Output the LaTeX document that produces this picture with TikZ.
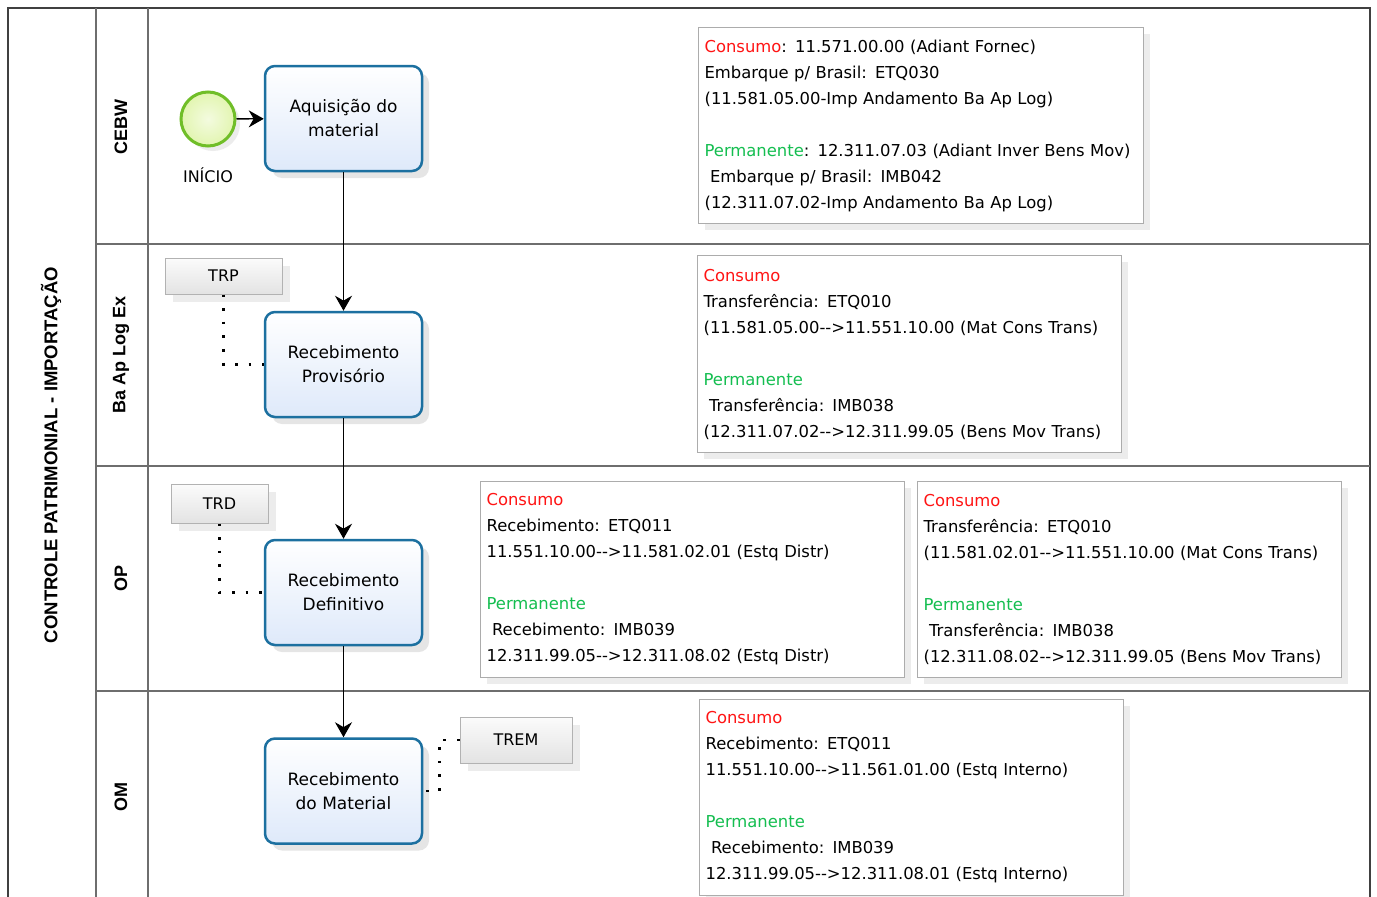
\documentclass[tikz,border=0pt]{standalone}
\usepackage{fontspec}
\setmainfont{DejaVu Sans}
\newfontfamily\lanefont{Liberation Sans}
\usepackage{tikz}
\usetikzlibrary{arrows.meta, positioning, shadows, shapes.geometric}

\definecolor{taskblue}{RGB}{28,112,160}
\definecolor{taskfill}{RGB}{222,233,250}
\definecolor{startgreen}{RGB}{112,190,40}
\definecolor{startfill}{RGB}{226,245,176}
\definecolor{consred}{RGB}{255,20,20}
\definecolor{permgreen}{RGB}{20,190,80}
\definecolor{laneline}{RGB}{110,110,110}

\newcommand{\cons}{\textcolor{consred}{Consumo}}
\newcommand{\perm}{\textcolor{permgreen}{Permanente}}
\newcommand{\contaseta}{-{}-{}>}

\begin{document}
\begin{tikzpicture}[
      x=1pt, y=-1pt,
      task/.style={draw=taskblue, line width=2.5pt, rounded corners=10pt, top color=white, bottom color=taskfill,
        minimum width=157pt, minimum height=105pt, align=center, font=\fontsize{17}{24}\selectfont,
        drop shadow={shadow xshift=7pt, shadow yshift=-7pt, opacity=0.2}},
      startev/.style={circle, draw=startgreen, line width=3pt, inner color=startfill!40, outer color=startfill,
        minimum size=54pt, drop shadow={shadow xshift=5pt, shadow yshift=-5pt, opacity=0.15}},
      annot/.style={draw=gray!60, line width=1pt, top color=gray!3, bottom color=gray!22,
        font=\fontsize{16}{20}\selectfont, drop shadow={shadow xshift=8pt, shadow yshift=-8pt, opacity=0.15}},
      contas/.style={draw=gray!65, line width=1.2pt, fill=white, anchor=north west, align=left, inner sep=6pt,
        font=\fontsize{16.4}{26}\selectfont, drop shadow={shadow xshift=6pt, shadow yshift=-6pt, opacity=0.15}},
      lanelab/.style={rotate=90, font=\lanefont\bfseries\fontsize{18}{20}\selectfont},
      flow/.style={-{Stealth[length=15pt, width=17pt]}, line width=1.3pt},
      assoc/.style={line width=2.6pt, dash pattern=on 2.6pt off 11pt}
    ]

\useasboundingbox[fill=white] (0,0) rectangle (1377,897);

% Pool and lanes
      \draw[line width=1.5pt, black!75] (8,897) -- (8,8) -- (1370,8) -- (1370,897);
      \draw[line width=1.5pt, laneline] (96,8) -- (96,897);
      \draw[line width=1.5pt, laneline] (148,8) -- (148,897);
      \draw[line width=1.5pt, laneline] (96,244) -- (1370,244);
      \draw[line width=1.5pt, laneline] (96,466) -- (1370,466);
      \draw[line width=1.5pt, laneline] (96,691) -- (1370,691);

      \node[rotate=90, font=\lanefont\bfseries\fontsize{18.5}{20}\selectfont] (pool) at (51,455) {CONTROLE PATRIMONIAL - IMPORTAÇÃO};
      \node[lanelab] (lcebw) at (121,127) {CEBW};
      \node[lanelab] (lbaap) at (121,355) {Ba Ap Log Ex};
      \node[lanelab] (lop) at (121,578) {OP};
      \node[lanelab] (lom) at (121,797) {OM};

% Flow
      \node[startev] (inicio) at (208,119) {};
      \node[font=\fontsize{16}{20}\selectfont] (inilab) at (208,175) {INÍCIO};

      \node[task] (aquis) at (343.5,118.5) {Aquisição do\\material};
      \node[task] (recprov) at (343.5,364.5) {Recebimento\\Provisório};
      \node[task] (recdef) at (343.5,592.5) {Recebimento\\Definitivo};
      \node[task] (recmat) at (343.5,791) {Recebimento\\do Material};

      \draw[flow] (inicio) -- (aquis);
      \draw[flow] (aquis) -- (recprov);
      \draw[flow] (recprov) -- (recdef);
      \draw[flow] (recdef) -- (recmat);

% Annotations
      \node[annot, minimum width=117pt, minimum height=36pt] (trp) at (223.5,276) {TRP};
      \node[annot, minimum width=97pt, minimum height=39pt] (trd) at (219.5,503.5) {TRD};
      \node[annot, minimum width=112pt, minimum height=46pt] (trem) at (516,740) {TREM};

      \draw[assoc] (trp.south) |- (recprov.west);
      \draw[assoc] (trd.south) |- (recdef.west);
      \draw[assoc] (trem.west) -- ++(-20,0) |- (recmat.east);

% Accounts
      \node[contas, minimum width=445pt, minimum height=196pt, text width=433pt] (contcebw) at (698,27)
        {\cons: 11.571.00.00 (Adiant Fornec)\\
         Embarque p/ Brasil: ETQ030\\
         (11.581.05.00-Imp Andamento Ba Ap Log)\\[26pt]
         \perm: 12.311.07.03 (Adiant Inver Bens Mov)\\
         \ Embarque p/ Brasil: IMB042\\
         (12.311.07.02-Imp Andamento Ba Ap Log)};
      \node[contas, minimum width=424pt, minimum height=197pt, text width=412pt] (contbaap) at (697,255)
        {\cons\\
         Transferência: ETQ010\\
         (11.581.05.00\contaseta11.551.10.00 (Mat Cons Trans)\\[26pt]
         \perm\\
         \ Transferência: IMB038\\
         (12.311.07.02\contaseta12.311.99.05 (Bens Mov Trans)};
      \node[contas, minimum width=424pt, minimum height=196pt, text width=412pt] (contop) at (480,481)
        {\cons\\
         Recebimento: ETQ011\\
         11.551.10.00\contaseta11.581.02.01 (Estq Distr)\\[26pt]
         \perm\\
         \ Recebimento: IMB039\\
         12.311.99.05\contaseta12.311.08.02 (Estq Distr)};
      \node[contas, minimum width=424pt, minimum height=196pt, text width=412pt] (contoptr) at (917,481)
        {\cons\\
         Transferência: ETQ010\\
         (11.581.02.01\contaseta11.551.10.00 (Mat Cons Trans)\\[26pt]
         \perm\\
         \ Transferência: IMB038\\
         (12.311.08.02\contaseta12.311.99.05 (Bens Mov Trans)};
      \node[contas, minimum width=424pt, minimum height=196pt, text width=412pt] (contom) at (699,699)
        {\cons\\
         Recebimento: ETQ011\\
         11.551.10.00\contaseta11.561.01.00 (Estq Interno)\\[26pt]
         \perm\\
         \ Recebimento: IMB039\\
         12.311.99.05\contaseta12.311.08.01 (Estq Interno)};
    \end{tikzpicture}
\end{document}
